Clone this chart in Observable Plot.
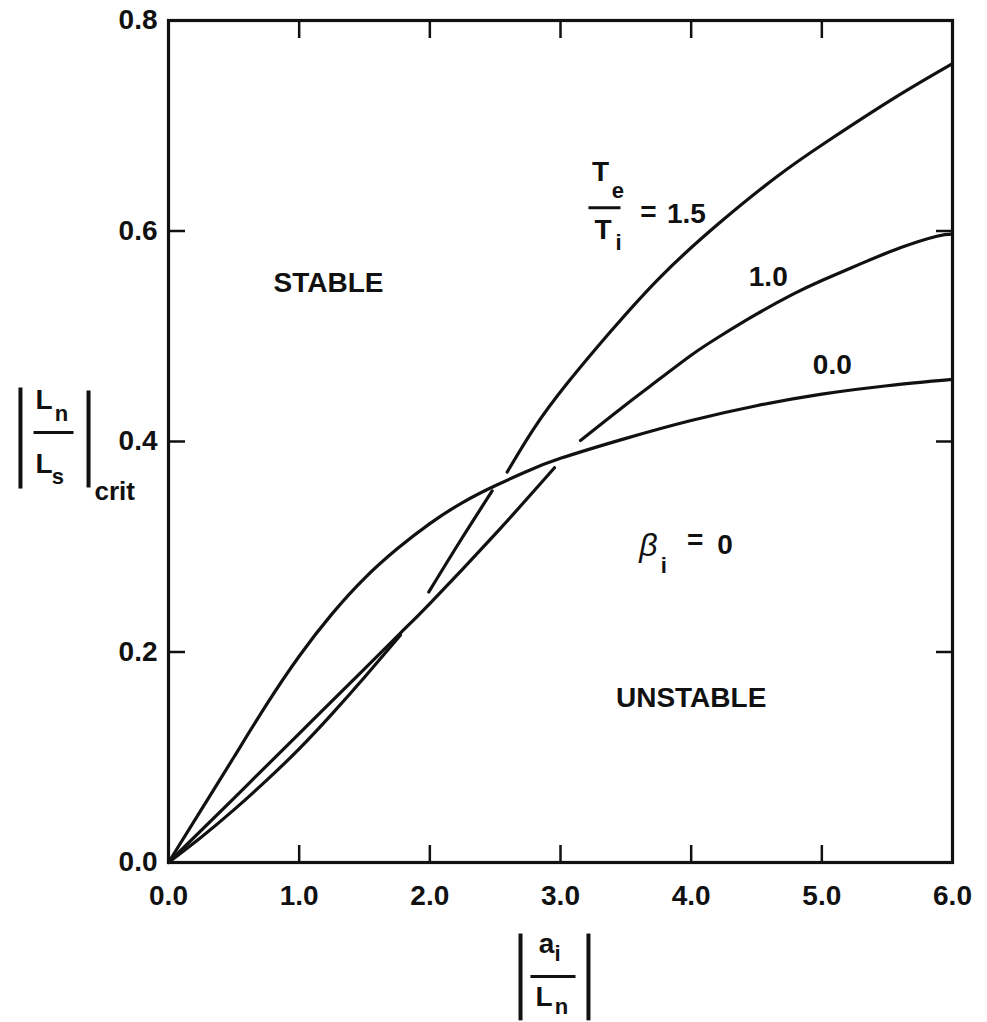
<!DOCTYPE html>
<html>
<head>
<meta charset="utf-8">
<script src="https://cdn.jsdelivr.net/npm/d3@7"></script>
<script src="https://cdn.jsdelivr.net/npm/@observablehq/plot@0.6"></script>
<style>
  body { margin: 0; background: #fff; }
</style>
</head>
<body>
<div id="chart"></div>
<script>
// ---- axis ticks ----
const xTicks = [0, 1, 2, 3, 4, 5, 6];
const yTicks = [0, 0.2, 0.4, 0.6, 0.8];

// ---- curves (Te/Ti); gaps are drawn breaks ----
const ratio00 = [[0,0],[0.25,0.050],[0.5,0.100],[0.75,0.150],[1.0,0.196],[1.25,0.236],[1.5,0.270],[1.75,0.298],[2.0,0.322],[2.25,0.342],[2.5,0.358],[2.75,0.372],[3.0,0.384],[3.5,0.403],[4.0,0.420],[4.5,0.434],[5.0,0.445],[5.5,0.453],[6.0,0.459]];
const ratio10a = [[0,0],[0.5,0.061],[1.0,0.1225],[1.5,0.184],[1.775,0.218],[2.0,0.246],[2.5,0.312],[2.954,0.375]];
const ratio10b = [[3.153,0.401],[3.5,0.435],[3.765,0.460],[4.0,0.482],[4.22,0.500],[4.5,0.521],[4.78,0.540],[5.0,0.553],[5.3,0.569],[5.6,0.584],[5.88,0.595],[6.0,0.597]];
const ratio15a = [[0,0],[0.25,0.024],[0.5,0.050],[0.75,0.078],[1.0,0.108],[1.25,0.141],[1.5,0.176],[1.775,0.216]];
const ratio15b = [[1.992,0.257],[2.23,0.305],[2.477,0.353]];
const ratio15c = [[2.592,0.371],[2.8,0.413],[3.05,0.455],[3.38,0.504],[3.77,0.557],[4.22,0.608],[4.66,0.652],[5.04,0.685],[5.55,0.726],[6.0,0.759]];

const segments = [
  {key: "0.0", pts: ratio00},
  {key: "1.0a", pts: ratio10a},
  {key: "1.0b", pts: ratio10b},
  {key: "1.5a", pts: ratio15a},
  {key: "1.5b", pts: ratio15b},
  {key: "1.5c", pts: ratio15c}
];
const lineData = segments.flatMap(s => s.pts.map(([x, y]) => ({x, y, key: s.key})));

// ---- annotations (data coordinates) ----
const bigLabels = [
  {x: 1.224, y: 0.551, text: "STABLE"},
  {x: 4.00, y: 0.156, text: "UNSTABLE"},
  {x: 4.59, y: 0.556, text: "1.0"},
  {x: 5.08, y: 0.473, text: "0.0"},
  {x: 3.964, y: 0.616, text: "1.5"},
  {x: 3.673, y: 0.618, text: "="},
  {x: 4.03, y: 0.306, text: "="},
  {x: 4.26, y: 0.302, text: "0"}
];
const mathMain = [
  {x: 3.306, y: 0.656, text: "T"},
  {x: 3.325, y: 0.601, text: "T"},
  {x: -0.953, y: 0.439, text: "L"},
  {x: -0.953, y: 0.379, text: "L"},
  {x: 2.893, y: -0.077, text: "a"},
  {x: 2.874, y: -0.128, text: "L"}
];
const mathSubs = [
  {x: 3.44, y: 0.638, text: "e"},
  {x: 3.445, y: 0.589, text: "i"},
  {x: -0.819, y: 0.426, text: "n"},
  {x: -0.846, y: 0.366, text: "s"},
  {x: 2.977, y: -0.0865, text: "i"},
  {x: 3.008, y: -0.137, text: "n"},
  {x: 3.79, y: 0.282, text: "i"}
];
const critLabel = [{x: -0.566, y: 0.3525, text: "crit"}];
const betaLabel = [{x: 3.673, y: 0.301, text: "β"}];
const fractionBars = [
  {x1: 3.214, x2: 3.459, y1: 0.622, y2: 0.622},
  {x1: -1.033, x2: -0.727, y1: 0.4086, y2: 0.4086},
  {x1: 2.770, x2: 3.115, y1: -0.1083, y2: -0.1083}
];
const absBars = [
  {x1: -1.133, x2: -1.133, y1: 0.4513, y2: 0.3553},
  {x1: -0.612, x2: -0.612, y1: 0.4485, y2: 0.3563},
  {x1: 2.694, x2: 2.694, y1: -0.0675, y2: -0.150},
  {x1: 3.214, x2: 3.214, y1: -0.0675, y2: -0.150}
];

const font = "Liberation Sans, Arial, sans-serif";
const fmt = d => d.toFixed(1);

const chart = Plot.plot({
  width: 987,
  height: 1022,
  marginLeft: 168,
  marginRight: 35,
  marginTop: 20,
  marginBottom: 160,
  style: {fontFamily: font, background: "#fff", color: "#111"},
  x: {domain: [0, 6]},
  y: {domain: [0, 0.8]},
  marks: [
    // inward ticks on all four sides
    Plot.axisX(xTicks, {anchor: "bottom", tickSize: -17, strokeWidth: 2.5, tickFormat: () => "", label: null}),
    Plot.axisX(xTicks, {anchor: "top", tickSize: -17, strokeWidth: 2.5, tickFormat: () => "", label: null}),
    Plot.axisY(yTicks, {anchor: "left", tickSize: -17, strokeWidth: 2.5, tickFormat: () => "", label: null}),
    Plot.axisY(yTicks, {anchor: "right", tickSize: -17, strokeWidth: 2.5, tickFormat: () => "", label: null}),
    // tick labels
    Plot.axisX(xTicks, {anchor: "bottom", tickSize: 0, tickPadding: 23, tickFormat: fmt, fontSize: 28, fontWeight: "bold", label: null}),
    Plot.axisY(yTicks, {anchor: "left", tickSize: 0, tickPadding: 11, tickFormat: fmt, fontSize: 28, fontWeight: "bold", label: null}),
    Plot.frame({stroke: "#111", strokeWidth: 3.2}),
    // curves
    Plot.line(lineData, {x: "x", y: "y", z: "key", stroke: "#111", strokeWidth: 3.2, strokeLinecap: "round", curve: "natural"}),
    // annotations
    Plot.text(bigLabels, {x: "x", y: "y", text: "text", fontSize: 28, fontWeight: "bold", fill: "#111"}),
    Plot.text(mathMain, {x: "x", y: "y", text: "text", fontSize: 28, fontWeight: "bold", fill: "#111"}),
    Plot.text(mathSubs, {x: "x", y: "y", text: "text", fontSize: 22, fontWeight: "bold", fill: "#111"}),
    Plot.text(critLabel, {x: "x", y: "y", text: "text", fontSize: 26, fontWeight: "bold", textAnchor: "start", fill: "#111"}),
    Plot.text(betaLabel, {x: "x", y: "y", text: "text", fontSize: 32, fontStyle: "italic", fill: "#111"}),
    Plot.link(fractionBars, {x1: "x1", y1: "y1", x2: "x2", y2: "y2", stroke: "#111", strokeWidth: 3}),
    Plot.link(absBars, {x1: "x1", y1: "y1", x2: "x2", y2: "y2", stroke: "#111", strokeWidth: 4})
  ]
});
document.getElementById("chart").appendChild(chart);
</script>
</body>
</html>
